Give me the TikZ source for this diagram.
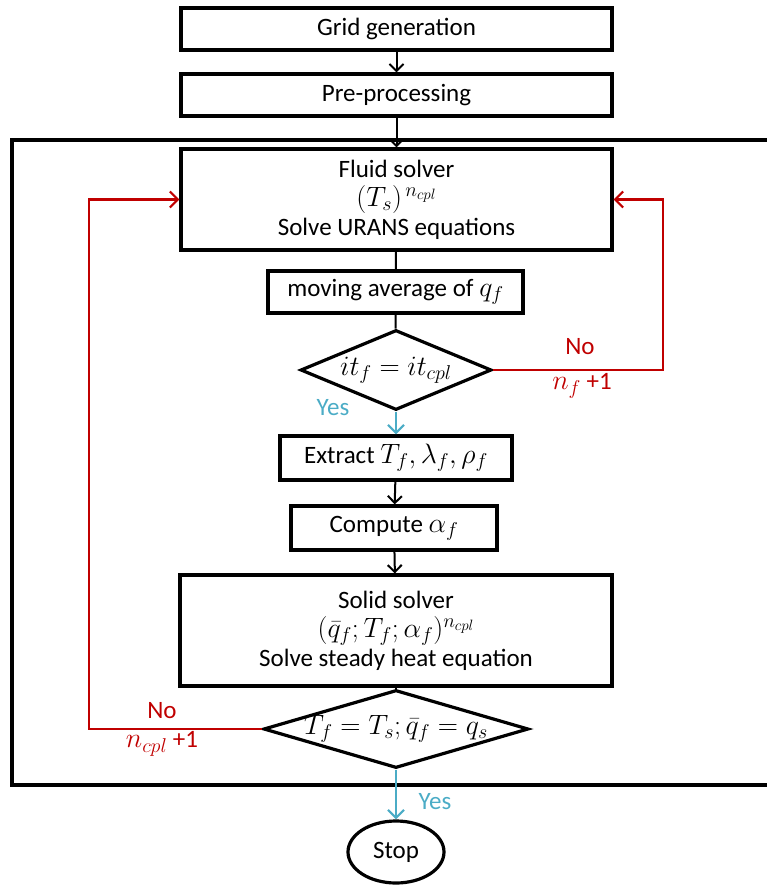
\RequirePackage{fix-cm}
\documentclass[tikz,border=0pt]{standalone}
\usepackage{fontspec}
\setmainfont{Carlito}
\DeclareMathSizes{25}{28}{20}{15}
\usetikzlibrary{shapes.geometric,arrows.meta}
\definecolor{noRed}{HTML}{C00000}
\definecolor{yesBlue}{HTML}{4BACC6}
\begin{document}
\begin{tikzpicture}[x=1pt,y=-1pt,
  font=\fontsize{25}{29}\selectfont,
  box/.style={draw,line width=3.2pt,inner sep=0pt,align=center},
  dec/.style={draw,diamond,line width=3.2pt,inner sep=0pt},
  arr/.style={line width=2pt,-{Straight Barb[length=7pt,width=14pt,line width=2pt]}},
  plain/.style={line width=2pt},
  noarr/.style={noRed,line width=2.2pt,-{Straight Barb[length=8pt,width=16pt,line width=2.2pt]}},
  yesarr/.style={yesBlue,line width=2.2pt,-{Straight Barb[length=8pt,width=16pt,line width=2.2pt]}},
  nolab/.style={text=noRed,inner sep=0pt},
  yeslab/.style={text=yesBlue,inner sep=0pt}]
\useasboundingbox (0,0) rectangle (767,885);
% outer loop frame
\draw[line width=3.2pt] (12,140) rectangle (800,785);
\node[box,minimum width=431pt,minimum height=42pt] (grid) at (396.5,29) {Grid generation};
\node[box,minimum width=431pt,minimum height=42pt] (pre) at (396.5,95) {Pre-processing};
\node[box,minimum width=431pt,minimum height=101pt] (fluid) at (396.5,199.5)
  {Fluid solver\\ $(T_s)^{\,n_{cpl}}$\\ Solve URANS equations};
\node[box,minimum width=255pt,minimum height=42pt] (mov) at (395.5,292) {moving average of $q_f$};
\node[dec,minimum width=188pt,minimum height=80pt,aspect=3] (d1) at (396,370) {$it_f = it_{cpl}$};
\node[box,minimum width=232pt,minimum height=44pt] (ext) at (396,458) {Extract $T_f,\lambda_f,\rho_f$};
\node[box,minimum width=206pt,minimum height=44pt] (comp) at (394,528) {Compute $\alpha_f$};
\node[box,minimum width=432pt,minimum height=111pt] (solid) at (396,630.5)
  {Solid solver\\ $(\bar q_f;T_f;\alpha_f)^{n_{cpl}}$\\ Solve steady heat equation};
\node[dec,minimum width=265pt,minimum height=78pt] (d2) at (396,729) {};
\node[inner sep=0pt] (d2t) at (d2.center) {$T_f = T_s;\bar q_f = q_s$};
\node[draw,ellipse,line width=3.2pt,minimum width=96pt,minimum height=62pt,inner sep=0pt] (stop) at (396,852) {Stop};
% connectors
\draw[arr] (grid) -- (pre);
\draw[arr] (pre) -- (fluid);
\draw[plain] (fluid) -- (mov);
\draw[plain] (mov) -- (d1);
\draw[yesarr] (d1.south) -- (ext.north);
\draw[arr] (ext) -- (comp);
\draw[arr] (comp) -- (solid);
\draw[plain] (solid) -- (d2);
\draw[yesarr] (d2.south) -- (stop.north);
\coordinate (r1) at (663,370);
\coordinate (l1) at (89,729);
\draw[noarr] (d1.east) -- (r1) |- (fluid.east);
\draw[noarr] (d2.west) -- (l1) |- (fluid.west);
% labels
\node[nolab] (no1) at (580,347) {No};
\node[nolab] (nf1) at (582,386) {$n_f$ +1};
\node[nolab] (no2) at (162,711) {No};
\node[nolab] (nc2) at (162,744) {$n_{cpl}$ +1};
\node[yeslab] (yes1) at (333,408) {Yes};
\node[yeslab] (yes2) at (435,802) {Yes};
\end{tikzpicture}
\end{document}
